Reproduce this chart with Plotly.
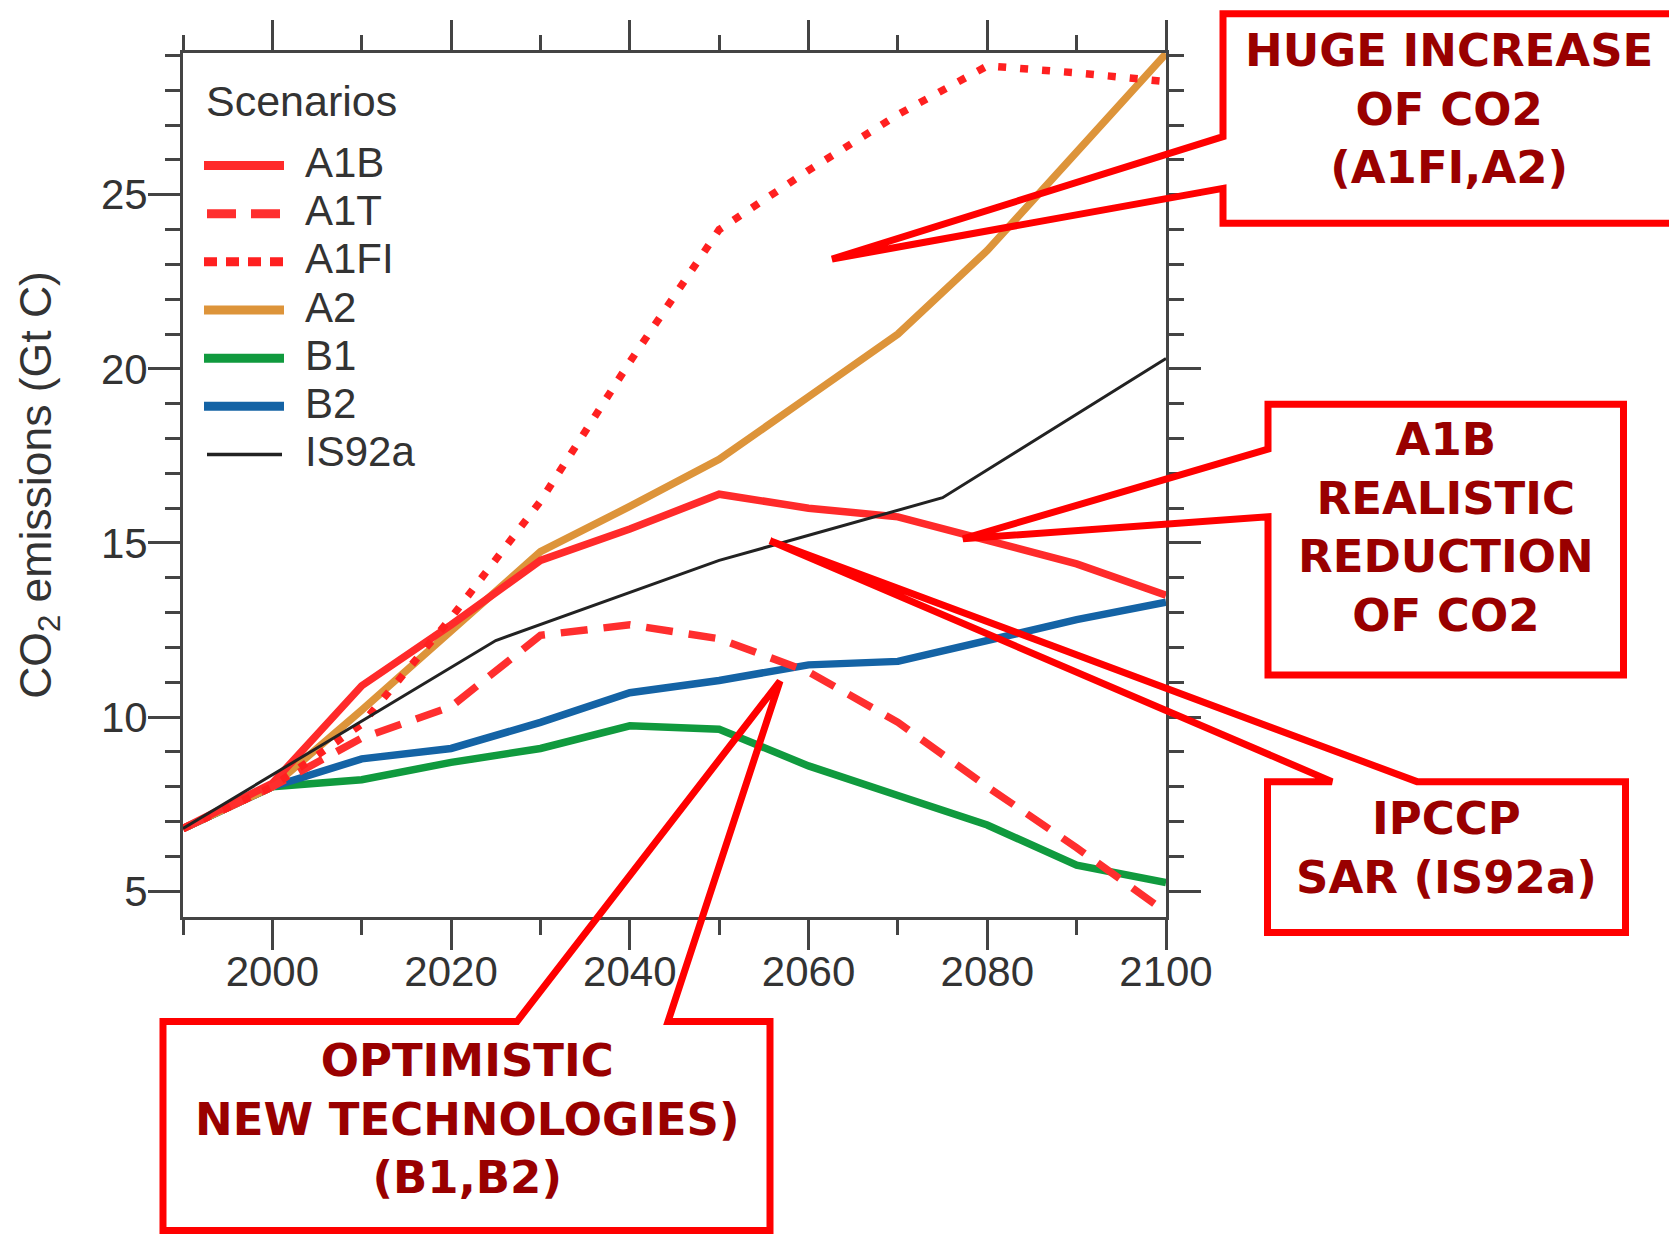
import plotly.graph_objects as go

# ---------------- data ----------------
years = [1990, 2000, 2010, 2020, 2030, 2040, 2050, 2060, 2070, 2080, 2090, 2100]
a1b  = [6.8, 8.1, 10.9, 12.65, 14.5, 15.4, 16.4, 16.0, 15.75, 15.1, 14.4, 13.5]
a1t  = [6.8, 8.0, 9.4, 10.3, 12.35, 12.65, 12.25, 11.3, 9.85, 8.0, 6.25, 4.4]
a1fi = [6.8, 8.0, 9.8, 12.85, 16.2, 20.2, 24.0, 25.7, 27.3, 28.7, 28.5, 28.25]
a2   = [6.8, 8.0, 10.2, 12.45, 14.75, 16.05, 17.4, 19.2, 21.0, 23.4, 26.2, 29.05]
b1   = [6.8, 8.0, 8.2, 8.7, 9.1, 9.75, 9.65, 8.6, 7.75, 6.9, 5.75, 5.25]
b2   = [6.8, 8.0, 8.8, 9.1, 9.85, 10.7, 11.05, 11.5, 11.6, 12.2, 12.8, 13.3]
is92a_years = [1990, 2025, 2050, 2075, 2100]
is92a = [6.8, 12.2, 14.5, 16.3, 20.3]

series_names = ["A1B", "A1T", "A1FI", "A2", "B1", "B2", "IS92a"]
x_tick_vals = [2000, 2020, 2040, 2060, 2080, 2100]
y_tick_vals = [5, 10, 15, 20, 25]

callout_texts = [
    "HUGE INCREASE<br>OF CO2<br>(A1FI,A2)",
    "A1B<br>REALISTIC<br>REDUCTION<br>OF CO2",
    "IPCCP<br>SAR (IS92a)",
    "OPTIMISTIC<br>NEW TECHNOLOGIES)<br>(B1,B2)",
]

# ---------------- geometry (reference pixel coordinates) ----------------
W, H = 1677, 1237
OFF = 8  # page body margin of the html page
L, R, T, B = 183, 1166, 49, 917


def px(x):
    return (x - L) / (R - L)


def py(y):
    return (B - y) / (B - T)


styles = {
    "A1B":  dict(color="#ff2a2a", width=7.5, dash="solid"),
    "A1T":  dict(color="#ff2e2e", width=7.5, dash="27px,16px"),
    "A1FI": dict(color="#ff2020", width=7.5, dash="8px,14px"),
    "A2":   dict(color="#dd943a", width=7.5, dash="solid"),
    "B1":   dict(color="#109a3e", width=7.5, dash="solid"),
    "B2":   dict(color="#1463a5", width=7.5, dash="solid"),
    "IS92a": dict(color="#222222", width=3, dash="solid"),
}
legend_dash = {"A1B": "solid", "A1T": "29px,15px", "A1FI": "13px,9px",
               "A2": "solid", "B1": "solid", "B2": "solid", "IS92a": "solid"}

data_map = {"A1B": (years, a1b), "A1T": (years, a1t), "A1FI": (years, a1fi),
            "A2": (years, a2), "B1": (years, b1), "B2": (years, b2),
            "IS92a": (is92a_years, is92a)}

fig = go.Figure()
for name in ["B1", "B2", "A2", "A1B", "A1T", "A1FI", "IS92a"]:
    xs, ys = data_map[name]
    fig.add_trace(go.Scatter(x=xs, y=ys, mode="lines", name=name,
                             line=styles[name], showlegend=False,
                             hoverinfo="x+y+name"))

FONT = "Liberation Sans, Arial, sans-serif"
tick_font = dict(family=FONT, size=42, color="#333333")
axis_col = "#444444"

fig.update_layout(
    width=W, height=H,
    margin=dict(l=L - OFF, r=W - (R - OFF), t=T - OFF, b=H - (B - OFF), pad=0),
    paper_bgcolor="white", plot_bgcolor="white",
    showlegend=False,
    xaxis=dict(range=[1990, 2100], tickmode="array", tickvals=x_tick_vals,
               ticks="outside", ticklen=30, tickwidth=2.5, tickcolor=axis_col,
               showline=True, linewidth=3, linecolor=axis_col, mirror="ticks",
               showgrid=False, zeroline=False, tickfont=tick_font,
               ticklabelstandoff=-14,
               minor=dict(tick0=1990, dtick=10, ticks="outside", ticklen=15,
                          tickwidth=2.5, tickcolor=axis_col, showgrid=False)),
    yaxis=dict(range=[4.26, 29.07], tickmode="array", tickvals=y_tick_vals,
               ticks="outside", ticklen=32, tickwidth=2.5, tickcolor=axis_col,
               showline=True, linewidth=3, linecolor=axis_col, mirror="ticks",
               showgrid=False, zeroline=False, tickfont=tick_font,
               ticklabelstandoff=-8,
               title=dict(text="CO<sub>2</sub> emissions (Gt C)",
                          font=dict(family=FONT, size=44.5, color="#333333"),
                          standoff=36),
               minor=dict(tick0=5, dtick=1, ticks="outside", ticklen=15,
                          tickwidth=2.5, tickcolor=axis_col, showgrid=False)),
)

# ---------------- manual legend ----------------
shapes = []
annotations = []
annotations.append(dict(xref="paper", yref="paper", x=px(204), y=py(97.5),
                        xanchor="left", yanchor="middle", showarrow=False,
                        text="Scenarios",
                        font=dict(family=FONT, size=43, color="#333333")))
leg_y0, leg_dy = 162, 48.4
for i, name in enumerate(series_names):
    yy = leg_y0 + i * leg_dy
    st = styles[name]
    lw = 9 if name != "IS92a" else 3.5
    x0, x1 = (204, 284) if name not in ("A1T", "IS92a") else (207, 282)
    shapes.append(dict(type="line", xref="paper", yref="paper",
                       x0=px(x0), x1=px(x1), y0=py(yy), y1=py(yy),
                       line=dict(color=st["color"], width=lw, dash=legend_dash[name])))
    annotations.append(dict(xref="paper", yref="paper", x=px(303), y=py(yy - 3),
                            xanchor="left", yanchor="middle", showarrow=False,
                            text=name,
                            font=dict(family=FONT, size=42, color="#333333")))

# ---------------- callouts ----------------
callout_paths = [
    [(1223, 133), (1223, 9.5), (1673.5, 9.5), (1673.5, 220), (1223, 220), (1223, 185), (832, 256)],
    [(1268, 447), (1268, 402), (1623.5, 402), (1623.5, 674), (1268, 674), (1268, 515), (963, 537)],
    [(1332, 781), (1267.5, 781), (1267.5, 932.5), (1625.5, 932.5), (1625.5, 781), (1417, 781), (770, 539)],
    [(517, 1022), (163, 1022), (163, 1232), (770, 1232), (770, 1022), (668, 1022), (780, 680)],
]
callout_centers = [(1449, 105.5), (1446, 525.5), (1446, 847.5), (467, 1120)]

for pts in callout_paths:
    d = "M " + " L ".join(f"{px(x):.5f},{py(y):.5f}" for x, y in pts) + " Z"
    shapes.append(dict(type="path", xref="paper", yref="paper", path=d,
                       line=dict(color="#ff0000", width=7),
                       fillcolor="rgba(0,0,0,0)", layer="above"))

for txt, (cx, cy) in zip(callout_texts, callout_centers):
    annotations.append(dict(xref="paper", yref="paper", x=px(cx), y=py(cy),
                            xanchor="center", yanchor="middle", showarrow=False,
                            text=txt, align="center",
                            font=dict(family="DejaVu Sans, sans-serif", size=45,
                                      color="#990000", weight="bold")))

fig.update_layout(shapes=shapes, annotations=annotations)
fig.write_html("out.html")
